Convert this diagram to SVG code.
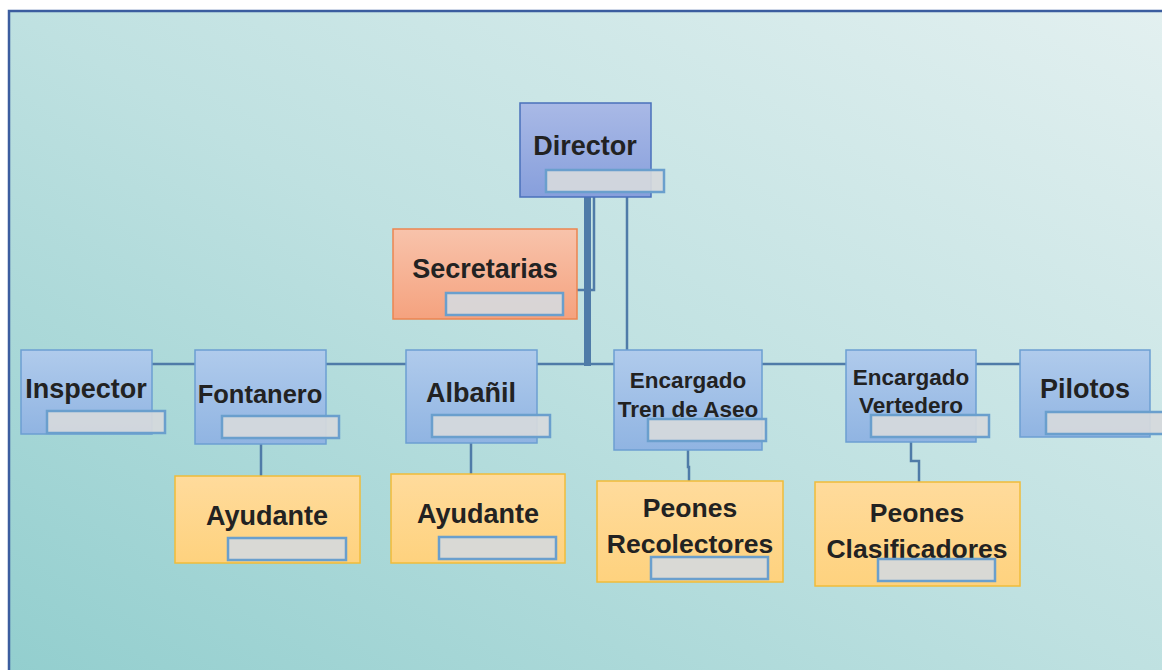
<svg xmlns="http://www.w3.org/2000/svg" width="1162" height="670" viewBox="0 0 1162 670">
  <defs>
    <linearGradient id="bg" x1="0" y1="1" x2="1" y2="0">
      <stop offset="0" stop-color="#92cece"/>
      <stop offset="0.5" stop-color="#bfe1e1"/>
      <stop offset="1" stop-color="#e3f0f0"/>
    </linearGradient>
    <linearGradient id="gBlue" x1="0" y1="0" x2="0" y2="1">
      <stop offset="0" stop-color="#b0cbec"/>
      <stop offset="1" stop-color="#90b4e2"/>
    </linearGradient>
    <linearGradient id="gDir" x1="0" y1="0" x2="0" y2="1">
      <stop offset="0" stop-color="#a9b9e6"/>
      <stop offset="1" stop-color="#879fdc"/>
    </linearGradient>
    <linearGradient id="gOrange" x1="0" y1="0" x2="0" y2="1">
      <stop offset="0" stop-color="#f8c3ab"/>
      <stop offset="1" stop-color="#f5a27e"/>
    </linearGradient>
    <linearGradient id="gYellow" x1="0" y1="0" x2="0" y2="1">
      <stop offset="0" stop-color="#ffdb9c"/>
      <stop offset="1" stop-color="#fed27e"/>
    </linearGradient>
  </defs>
  <style>
    .blue{fill:url(#gBlue);stroke:#6c9fd2;stroke-width:1.5}
    .dir{fill:url(#gDir);stroke:#4a70bb;stroke-width:1.5}
    .orange{fill:url(#gOrange);stroke:#eb8550;stroke-width:1.5}
    .yellow{fill:url(#gYellow);stroke:#f0bc3a;stroke-width:1.5}
    .lbl{fill:#d6d9dc;fill-opacity:0.92;stroke:#6a9fcd;stroke-width:2.5}
    .t{font-family:"Liberation Sans",Arial,sans-serif;font-weight:bold;fill:#222222;text-anchor:middle}
    .conn{fill:none;stroke:#4f7ba8;stroke-width:2.5}
    .thick{stroke-width:7}
  </style>
  <rect x="0" y="0" width="1162" height="670" fill="#ffffff"/>
  <rect x="9" y="11" width="1160" height="670" fill="url(#bg)" stroke="#3b5d9f" stroke-width="2.5"/>

  <g id="connectors">
    <line class="conn" x1="152" y1="364" x2="1020" y2="364"/>
    <line class="conn thick" x1="587.5" y1="197" x2="587.5" y2="366"/>
    <polyline class="conn" points="594,197 594,290 577,290"/>
    <line class="conn" x1="627" y1="197" x2="627" y2="350"/>
    <line class="conn" x1="261" y1="444" x2="261" y2="476"/>
    <line class="conn" x1="471" y1="443" x2="471" y2="474"/>
    <polyline class="conn" points="688,450 688,467 689,467 689,481"/>
    <polyline class="conn" points="911,442 911,461 919,461 919,482"/>
  </g>

  <g id="director">
    <rect class="dir" x="520" y="103" width="131" height="94"/>
    <text class="t" x="585" y="155" font-size="27">Director</text>
    <rect class="lbl" x="546" y="170" width="118" height="22"/>
  </g>
  <g id="secretarias">
    <rect class="orange" x="393" y="229" width="184" height="90"/>
    <text class="t" x="485" y="278" font-size="27">Secretarias</text>
    <rect class="lbl" x="446" y="293" width="117" height="22"/>
  </g>
  <g id="inspector">
    <rect class="blue" x="21" y="350" width="131" height="84"/>
    <text class="t" x="86" y="398" font-size="27">Inspector</text>
    <rect class="lbl" x="47" y="411" width="118" height="22"/>
  </g>
  <g id="fontanero">
    <rect class="blue" x="195" y="350" width="131" height="94"/>
    <text class="t" x="260" y="403" font-size="25.5">Fontanero</text>
    <rect class="lbl" x="222" y="416" width="117" height="22"/>
  </g>
  <g id="ayudante1">
    <rect class="yellow" x="175" y="476" width="185" height="87"/>
    <text class="t" x="267" y="525" font-size="27">Ayudante</text>
    <rect class="lbl" x="228" y="538" width="118" height="22"/>
  </g>
  <g id="albanil">
    <rect class="blue" x="406" y="350" width="131" height="93"/>
    <text class="t" x="471" y="402" font-size="27">Albañil</text>
    <rect class="lbl" x="432" y="415" width="118" height="22"/>
  </g>
  <g id="ayudante2">
    <rect class="yellow" x="391" y="474" width="174" height="89"/>
    <text class="t" x="478" y="523" font-size="27">Ayudante</text>
    <rect class="lbl" x="439" y="537" width="117" height="22"/>
  </g>
  <g id="tren">
    <rect class="blue" x="614" y="350" width="148" height="100"/>
    <text class="t" x="688" y="388" font-size="22.5">Encargado</text>
    <text class="t" x="688" y="417" font-size="22.5">Tren de Aseo</text>
    <rect class="lbl" x="648" y="419" width="118" height="22"/>
  </g>
  <g id="recolectores">
    <rect class="yellow" x="597" y="481" width="186" height="101"/>
    <text class="t" x="690" y="517" font-size="26.5">Peones</text>
    <text class="t" x="690" y="553" font-size="26.5">Recolectores</text>
    <rect class="lbl" x="651" y="557" width="117" height="22"/>
  </g>
  <g id="vertedero">
    <rect class="blue" x="846" y="350" width="130" height="92"/>
    <text class="t" x="911" y="385" font-size="22.5">Encargado</text>
    <text class="t" x="911" y="413" font-size="22.5">Vertedero</text>
    <rect class="lbl" x="871" y="415" width="118" height="22"/>
  </g>
  <g id="clasificadores">
    <rect class="yellow" x="815" y="482" width="205" height="104"/>
    <text class="t" x="917" y="522" font-size="26.5">Peones</text>
    <text class="t" x="917" y="558" font-size="26.5">Clasificadores</text>
    <rect class="lbl" x="878" y="559" width="117" height="22"/>
  </g>
  <g id="pilotos">
    <rect class="blue" x="1020" y="350" width="130" height="87"/>
    <text class="t" x="1085" y="398" font-size="27">Pilotos</text>
    <rect class="lbl" x="1046" y="412" width="118" height="22"/>
  </g>
</svg>
